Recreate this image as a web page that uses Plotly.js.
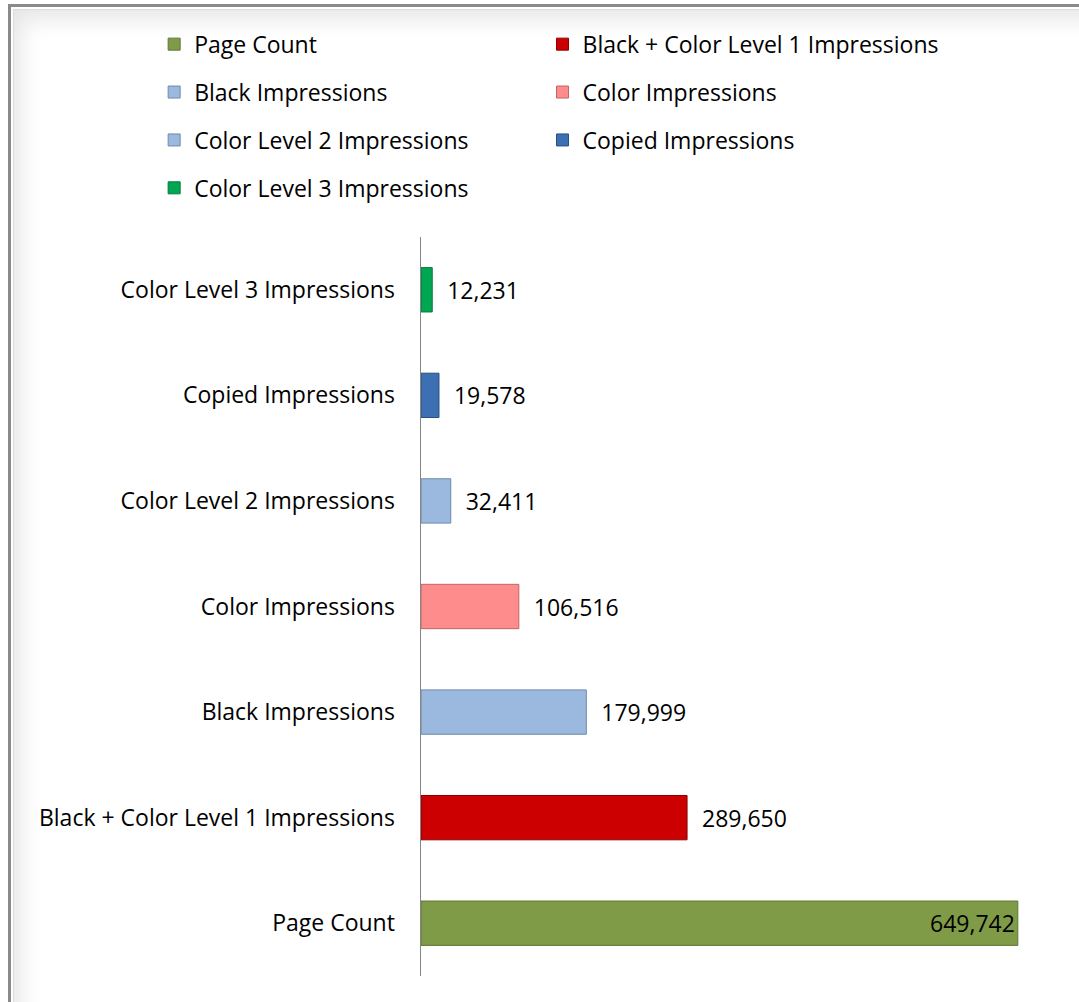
<!DOCTYPE html>
<html>
<head>
<meta charset="utf-8">
<script src="https://cdn.plot.ly/plotly-3.0.1.min.js"></script>
<style>
  html, body { margin: 0; padding: 0; background: #ffffff; overflow: hidden; }
  #frame {
    position: absolute; left: 8px; top: 4px; width: 1200px; height: 1200px;
    border: 3px solid #8a8a8a; background: #ffffff;
    box-shadow: inset 0 0 0 2px #ffffff, inset 0 0 0 3px #dcdcdc, inset 10px 12px 22px rgba(0,0,0,0.10);
  }
  #chart { position: absolute; left: 0; top: 0; width: 1079px; height: 1002px; }
</style>
</head>
<body>
<div id="frame"></div>
<div id="chart"></div>
<script>
// ---- data ----
const categories = [
  "Page Count",
  "Black + Color Level 1 Impressions",
  "Black Impressions",
  "Color Impressions",
  "Color Level 2 Impressions",
  "Copied Impressions",
  "Color Level 3 Impressions"
];
const values = [649742, 289650, 179999, 106516, 32411, 19578, 12231];
const barColors = ["#7f9b48", "#cc0000", "#9bb9de", "#ff8c8c", "#9bb9de", "#3d70b2", "#00a651"];
const lineColors = ["#5f7534", "#8a0000", "#6f8aab", "#c46464", "#6f8aab", "#284f80", "#007a3a"];
// legend columns: column 1 -> legend, column 2 -> legend2 (row-wise order)
const legendColumn = ["legend", "legend2", "legend", "legend2", "legend", "legend2", "legend"];
// label placement: the longest bar leaves no room outside, so its label sits at the bar end
const labelPosition = ["inside", "outside", "outside", "outside", "outside", "outside", "outside"];

const FONT = "Open Sans, Noto Sans, sans-serif";

const traces = categories.map((c, i) => ({
  type: "bar",
  orientation: "h",
  name: c,
  x: [values[i]],
  y: [c],
  width: 0.42,
  marker: { color: barColors[i], line: { color: lineColors[i], width: 1 } },
  texttemplate: labelPosition[i] === "outside" ? "\u00a0\u00a0%{x:,}" : "%{x:,}",
  textposition: labelPosition[i],
  insidetextanchor: "end",
  constraintext: "none",
  cliponaxis: false,
  textfont: { family: FONT, size: 23, color: "#000000" },
  legend: legendColumn[i],
  legendgroup: "g" + i,
  hoverinfo: "y+x"
}));

const layout = {
  width: 1079,
  height: 1002,
  paper_bgcolor: "rgba(0,0,0,0)",
  plot_bgcolor: "rgba(0,0,0,0)",
  margin: { l: 421, r: 15, t: 237, b: 26, pad: 0 },
  barmode: "overlay",
  font: { family: FONT, size: 23, color: "#000000" },
  xaxis: {
    range: [0, 700000],
    visible: false,
    showgrid: false,
    zeroline: false
  },
  yaxis: {
    type: "category",
    categoryorder: "array",
    categoryarray: categories,
    showline: true,
    linecolor: "#868686",
    linewidth: 1.5,
    showgrid: false,
    zeroline: false,
    ticks: "",
    ticklabelstandoff: 20,
    tickfont: { family: FONT, size: 23, color: "#000000" }
  },
  legend: {
    orientation: "v",
    x: -0.415, xanchor: "left",
    y: 1.29, yanchor: "top",
    font: { family: FONT, size: 23, color: "#000000" },
    tracegroupgap: 15,
    traceorder: "grouped",
    bgcolor: "rgba(0,0,0,0)",
    itemclick: false, itemdoubleclick: false
  },
  legend2: {
    orientation: "v",
    x: 0.189, xanchor: "left",
    y: 1.29, yanchor: "top",
    font: { family: FONT, size: 23, color: "#000000" },
    tracegroupgap: 15,
    traceorder: "grouped",
    bgcolor: "rgba(0,0,0,0)",
    itemclick: false, itemdoubleclick: false
  },
  showlegend: true
};

Plotly.newPlot("chart", traces, layout, { displayModeBar: false, staticPlot: true });
</script>
</body>
</html>
